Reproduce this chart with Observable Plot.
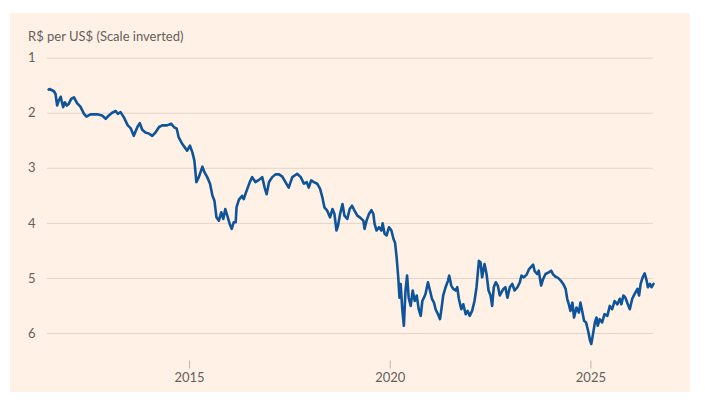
<!DOCTYPE html>
<html>
<head>
<meta charset="utf-8">
<script src="https://cdn.jsdelivr.net/npm/d3@7"></script>
<script src="https://cdn.jsdelivr.net/npm/@observablehq/plot@0.6"></script>
<style>
  html, body { margin: 0; padding: 0; background: #ffffff; }
  #panel { position: absolute; left: 10px; top: 13px; width: 680px; height: 379px; background: #FFF1E5; overflow: hidden; }
  #title { position: absolute; left: 18px; top: 17px; font-family: Lato, sans-serif; font-size: 13px; line-height: 13px; color: #66605C; white-space: nowrap; }
  #chart { position: absolute; left: 0; top: 32px; }
</style>
</head>
<body>
<div id="panel">
  <div id="title">R$ per US$ (Scale inverted)</div>
  <div id="chart"></div>
</div>
<script>
const titleText = "R$ per US$ (Scale inverted)";
const xTicks = [2015, 2020, 2025];
const yTicks = [1, 2, 3, 4, 5, 6];

const years = [
  2011.49,2011.51,2011.62,2011.66,2011.70,2011.74,2011.79,2011.81,2011.85,2011.89,
  2011.94,2011.99,2012.05,2012.12,2012.20,2012.28,2012.37,2012.43,2012.53,2012.70,
  2012.82,2012.91,2012.99,2013.07,2013.16,2013.21,2013.28,2013.36,2013.46,2013.53,
  2013.61,2013.70,2013.76,2013.82,2013.90,2013.99,2014.07,2014.15,2014.24,2014.32,
  2014.44,2014.54,2014.61,2014.68,2014.73,2014.82,2014.88,2014.94,2015.01,2015.07,
  2015.12,2015.17,2015.23,2015.32,2015.37,2015.44,2015.51,2015.57,2015.62,2015.67,
  2015.73,2015.79,2015.84,2015.89,2015.94,2016.00,2016.05,2016.10,2016.15,2016.17,
  2016.23,2016.31,2016.35,2016.40,2016.45,2016.50,2016.56,2016.64,2016.73,2016.81,
  2016.87,2016.92,2016.98,2017.06,2017.14,2017.23,2017.31,2017.39,2017.47,2017.56,
  2017.62,2017.68,2017.77,2017.85,2017.92,2017.97,2018.03,2018.10,2018.18,2018.25,
  2018.31,2018.36,2018.43,2018.50,2018.56,2018.61,2018.66,2018.70,2018.75,2018.81,
  2018.86,2018.93,2018.99,2019.05,2019.11,2019.18,2019.24,2019.33,2019.36,2019.41,
  2019.47,2019.53,2019.58,2019.61,2019.66,2019.72,2019.78,2019.81,2019.86,2019.91,
  2019.97,2020.03,2020.08,2020.12,2020.16,2020.20,2020.23,2020.26,2020.30,2020.34,
  2020.38,2020.42,2020.46,2020.51,2020.56,2020.61,2020.66,2020.71,2020.76,2020.80,
  2020.84,2020.88,2020.94,2020.99,2021.04,2021.09,2021.13,2021.19,2021.24,2021.27,
  2021.32,2021.38,2021.44,2021.47,2021.52,2021.57,2021.63,2021.67,2021.71,2021.77,
  2021.82,2021.88,2021.93,2021.98,2022.04,2022.10,2022.15,2022.21,2022.25,2022.29,
  2022.35,2022.40,2022.45,2022.50,2022.54,2022.58,2022.63,2022.68,2022.73,2022.82,
  2022.87,2022.92,2022.98,2023.04,2023.10,2023.17,2023.23,2023.27,2023.33,2023.40,
  2023.46,2023.51,2023.56,2023.60,2023.66,2023.70,2023.76,2023.81,2023.87,2023.95,
  2024.01,2024.06,2024.12,2024.18,2024.25,2024.31,2024.37,2024.41,2024.45,2024.49,
  2024.54,2024.58,2024.64,2024.70,2024.74,2024.79,2024.83,2024.88,2024.93,2024.98,
  2025.01,2025.06,2025.10,2025.14,2025.17,2025.22,2025.28,2025.34,2025.41,2025.47,
  2025.53,2025.59,2025.66,2025.72,2025.76,2025.81,2025.86,2025.92,2025.97,2026.03,
  2026.09,2026.16,2026.20,2026.24,2026.29,2026.34,2026.39,2026.42,2026.47,2026.51,2026.56
];

const rates = [
  1.57,1.56,1.60,1.65,1.86,1.77,1.70,1.77,1.89,1.80,
  1.86,1.83,1.74,1.71,1.82,1.88,2.01,2.06,2.02,2.02,
  2.04,2.10,2.04,1.99,1.96,2.01,1.98,2.07,2.22,2.27,
  2.41,2.25,2.18,2.30,2.35,2.37,2.41,2.35,2.25,2.22,
  2.22,2.19,2.25,2.28,2.44,2.56,2.62,2.68,2.59,2.71,
  2.86,3.25,3.16,2.97,3.07,3.16,3.28,3.50,3.59,3.89,
  3.95,3.80,3.92,3.74,3.86,4.01,4.10,3.98,3.98,3.71,
  3.57,3.50,3.56,3.45,3.35,3.25,3.16,3.25,3.21,3.16,
  3.35,3.47,3.25,3.16,3.11,3.11,3.15,3.25,3.35,3.16,
  3.13,3.10,3.16,3.28,3.25,3.35,3.22,3.25,3.28,3.37,
  3.53,3.71,3.77,3.89,3.74,3.83,4.13,4.04,3.83,3.65,
  3.86,3.92,3.74,3.68,3.77,3.86,3.89,3.95,4.10,3.95,
  3.83,3.76,3.83,4.01,4.13,4.07,4.13,4.00,4.19,4.22,
  4.07,4.13,4.28,4.35,4.62,4.98,5.35,5.10,5.56,5.86,
  5.22,4.95,5.35,5.50,5.22,5.41,5.31,5.56,5.68,5.41,
  5.35,5.28,5.07,5.22,5.37,5.44,5.56,5.65,5.74,5.59,
  5.31,5.16,5.04,4.95,5.13,5.19,5.22,5.16,5.37,5.56,
  5.47,5.65,5.59,5.68,5.59,5.41,5.16,4.68,4.71,4.98,
  4.74,4.92,5.22,5.31,5.50,5.16,5.07,5.13,5.31,5.19,
  5.16,5.35,5.16,5.10,5.22,5.16,5.07,4.95,4.98,4.93,
  4.83,4.79,4.75,4.87,4.92,4.86,5.13,5.01,4.92,4.89,
  4.86,4.93,4.97,4.99,5.04,5.10,5.19,5.37,5.47,5.59,
  5.44,5.71,5.53,5.62,5.44,5.62,5.77,5.80,5.95,6.13,
  6.19,5.98,5.80,5.71,5.86,5.74,5.80,5.65,5.68,5.50,
  5.56,5.41,5.47,5.37,5.47,5.31,5.35,5.47,5.56,5.37,
  5.28,5.19,5.31,5.10,4.98,4.91,5.04,5.16,5.10,5.16,5.10
];

const data = years.map((year, i) => ({year, rate: rates[i]}));
document.getElementById("title").textContent = titleText;

const chart = Plot.plot({
  width: 680,
  height: 347,
  marginTop: 12.7,
  marginBottom: 31.5,
  marginLeft: 37,
  marginRight: 37,
  style: {background: "transparent", fontFamily: "Lato, sans-serif", fontSize: "13px", color: "#66605C"},
  x: {type: "linear", domain: [2011.46, 2026.56]},
  y: {domain: [1, 6.5], reverse: true},
  marks: [
    Plot.ruleY(yTicks, {stroke: "#E2D5CA", strokeWidth: 1}),
    Plot.axisY(yTicks, {tickSize: 0, tickPadding: 12, fill: "#66605C", fontSize: 13, tickFormat: d => String(d), label: null}),
    Plot.axisX(xTicks, {tickSize: 8, tickPadding: 4, stroke: "#BFB5AD", fill: "#66605C", fontSize: 13, tickFormat: d => String(d), label: null}),
    Plot.line(data, {x: "year", y: "rate", stroke: "#0F5499", strokeWidth: 2.6, strokeLinejoin: "round", strokeLinecap: "round"})
  ]
});
document.getElementById("chart").appendChild(chart);
</script>
</body>
</html>
